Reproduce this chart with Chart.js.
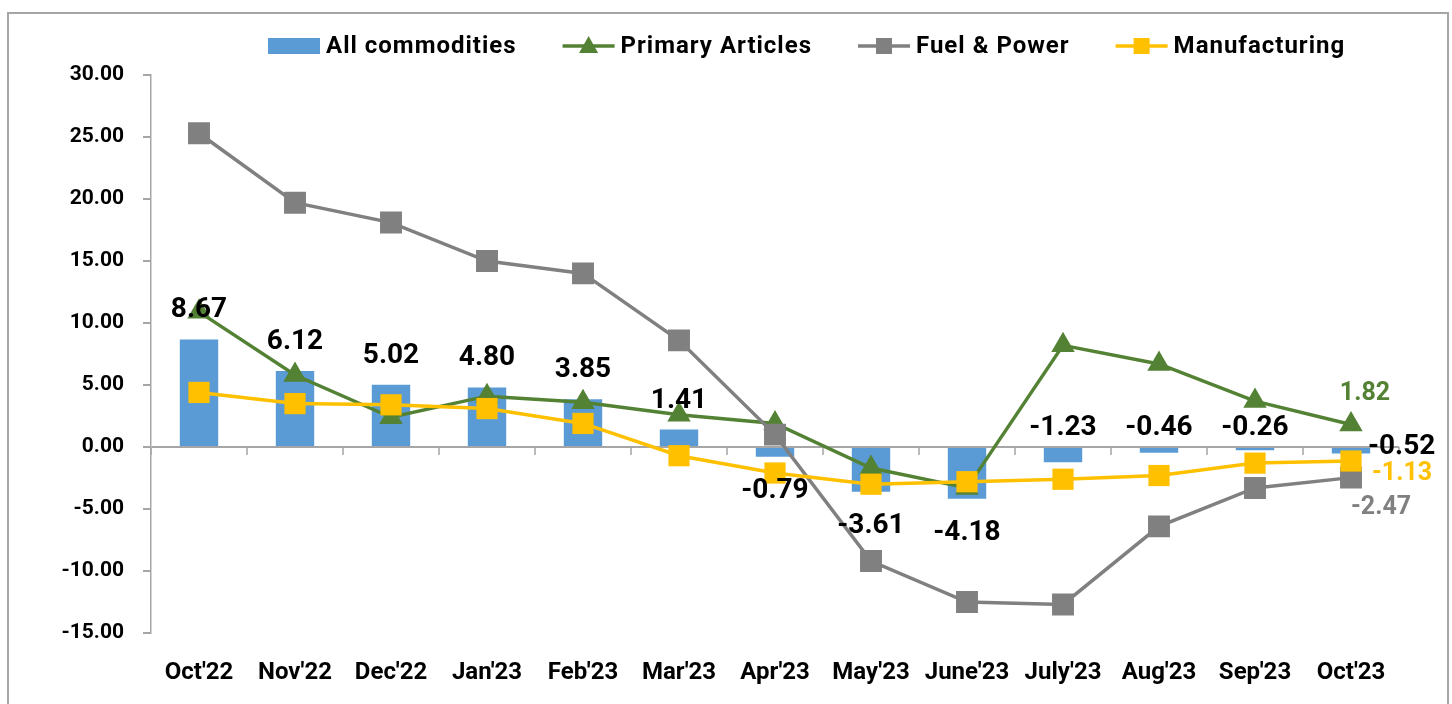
<!DOCTYPE html>
<html>
<head>
<meta charset="utf-8">
<script src="https://cdn.jsdelivr.net/npm/chart.js@4/dist/chart.umd.min.js"></script>
<style>
  html, body { margin: 0; padding: 0; background: #fff; overflow: hidden; }
  #frame { position: absolute; left: 7px; top: 12px; width: 1438px; height: 720px; border: 2px solid #a6a6a6; pointer-events: none; }
  canvas { position: absolute; left: 0; top: 0; }
</style>
</head>
<body>
<canvas id="myChart" width="1452" height="704"></canvas>
<div id="frame"></div>
<script>
// data
const months = ["Oct'22", "Nov'22", "Dec'22", "Jan'23", "Feb'23", "Mar'23", "Apr'23", "May'23", "June'23", "July'23", "Aug'23", "Sep'23", "Oct'23"];
const allCommodities = [8.67, 6.12, 5.02, 4.80, 3.85, 1.41, -0.79, -3.61, -4.18, -1.23, -0.46, -0.26, -0.52];
const primaryArticles = [10.9, 5.8, 2.4, 4.1, 3.6, 2.6, 1.9, -1.7, -3.3, 8.2, 6.7, 3.7, 1.82];
const fuelPower = [25.3, 19.7, 18.1, 15.0, 14.0, 8.6, 1.0, -9.2, -12.5, -12.7, -6.4, -3.3, -2.47];
const manufacturing = [4.4, 3.5, 3.4, 3.1, 1.9, -0.7, -2.1, -3.0, -2.8, -2.6, -2.3, -1.3, -1.13];
const yTicks = [30, 25, 20, 15, 10, 5, 0, -5, -10, -15];
// where each bar value label sits
const barLabelPlace = ['top', 'top', 'top', 'top', 'top', 'top', 'bottom', 'bottom', 'bottom', 'top', 'top', 'top', 'right'];

const FONT = 'Roboto, "Liberation Sans", sans-serif';
const BLUE = '#5b9bd5', GREEN = '#548235', GREY = '#808080', GOLD = '#ffc000', AXIS = '#a6a6a6';

// legend: custom so each line series gets its line + marker symbol
const legendPlugin = {
    id: 'excelLegend',
    afterDraw(chart) {
        const ctx = chart.ctx;
        const items = [
            { text: 'All commodities', kind: 'bar', color: BLUE },
            { text: 'Primary Articles', kind: 'triangle', color: GREEN },
            { text: 'Fuel & Power', kind: 'square', color: GREY },
            { text: 'Manufacturing', kind: 'square', color: GOLD }
        ];
        const y = 46;
        let x = 268;
        ctx.save();
        ctx.font = 'bold 24px ' + FONT;
        ctx.letterSpacing = '1px';
        ctx.textBaseline = 'middle';
        items.forEach(item => {
            ctx.fillStyle = item.color;
            if (item.kind === 'bar') {
                ctx.fillRect(x, y - 8, 52, 16);
            } else {
                ctx.strokeStyle = item.color;
                ctx.lineWidth = 3.5;
                ctx.beginPath();
                ctx.moveTo(x, y);
                ctx.lineTo(x + 52, y);
                ctx.stroke();
                if (item.kind === 'square') {
                    ctx.fillRect(x + 26 - 8, y - 8, 16, 16);
                } else {
                    ctx.beginPath();
                    ctx.moveTo(x + 26, y - 10);
                    ctx.lineTo(x + 26 + 9.5, y + 7);
                    ctx.lineTo(x + 26 - 9.5, y + 7);
                    ctx.closePath();
                    ctx.fill();
                }
            }
            x += 58;
            ctx.fillStyle = '#000';
            ctx.fillText(item.text, x, y + 1);
            x += ctx.measureText(item.text).width + 46;
        });
        ctx.restore();
    }
};

// zero line ticks between categories
const zeroTicksPlugin = {
    id: 'zeroTicks',
    beforeDatasetsDraw(chart) {
        const xs = chart.scales.x, ys = chart.scales.y;
        const ctx = chart.ctx;
        const y0 = ys.getPixelForValue(0);
        const step = xs.getPixelForValue(1) - xs.getPixelForValue(0);
        ctx.save();
        ctx.strokeStyle = AXIS;
        ctx.lineWidth = 1.5;
        ctx.beginPath();
        for (let i = 0; i <= months.length; i++) {
            const x = xs.getPixelForValue(0) + (i - 0.5) * step;
            ctx.moveTo(x, y0);
            ctx.lineTo(x, y0 + 8);
        }
        ctx.stroke();
        ctx.restore();
    }
};

const valueLabelsPlugin = {
    id: 'valueLabels',
    afterDatasetsDraw(chart) {
        const ctx = chart.ctx;
        const ys = chart.scales.y;
        const y0 = ys.getPixelForValue(0);
        ctx.save();
        ctx.textBaseline = 'middle';
        ctx.font = 'bold 28px ' + FONT;
        ctx.fillStyle = '#000';
        chart.getDatasetMeta(0).data.forEach((bar, i) => {
            const v = allCommodities[i];
            const txt = v.toFixed(2);
            const place = barLabelPlace[i];
            ctx.textAlign = 'center';
            if (place === 'right') {
                ctx.textAlign = 'left';
                ctx.fillText(txt, bar.x + 17, y0);
            } else if (place === 'bottom') {
                ctx.fillText(txt, bar.x, bar.y + 34);
            } else if (v >= 0) {
                ctx.fillText(txt, bar.x, bar.y - 29);
            } else {
                ctx.fillText(txt, bar.x, y0 - 19);
            }
        });
        // last-point labels of the lines
        const last = months.length - 1;
        ctx.font = 'bold 25px ' + FONT;
        let p = chart.getDatasetMeta(1).data[last];
        ctx.fillStyle = GREEN;
        ctx.textAlign = 'center';
        ctx.fillText(primaryArticles[last].toFixed(2), p.x + 14, p.y - 31);
        p = chart.getDatasetMeta(3).data[last];
        ctx.fillStyle = GOLD;
        ctx.textAlign = 'left';
        ctx.fillText(manufacturing[last].toFixed(2), p.x + 21, p.y + 13);
        p = chart.getDatasetMeta(2).data[last];
        ctx.fillStyle = GREY;
        ctx.textAlign = 'center';
        ctx.fillText(fuelPower[last].toFixed(2), p.x + 30, p.y + 30);
        ctx.restore();
    }
};

function lineSet(label, data, color, style, radius, order) {
    return {
        type: 'line',
        label: label,
        data: data,
        borderColor: color,
        backgroundColor: color,
        borderWidth: 3.5,
        pointStyle: style,
        pointRadius: radius,
        pointHoverRadius: radius,
        pointBackgroundColor: color,
        pointBorderColor: color,
        pointBorderWidth: 0,
        tension: 0,
        order: order
    };
}

const ctx = document.getElementById('myChart').getContext('2d');
const myChart = new Chart(ctx, {
    type: 'bar',
    data: {
        labels: months,
        datasets: [
            {
                label: 'All commodities',
                data: allCommodities,
                backgroundColor: BLUE,
                barPercentage: 0.4,
                categoryPercentage: 1,
                order: 3
            },
            lineSet('Primary Articles', primaryArticles, GREEN, 'triangle', 13.5, 2),
            lineSet('Fuel & Power', fuelPower, GREY, 'rect', 15.5, 1),
            lineSet('Manufacturing', manufacturing, GOLD, 'rect', 15, 0)
        ]
    },
    options: {
        responsive: false,
        animation: false,
        layout: { padding: { top: 75, right: 53, bottom: 0, left: 0 } },
        plugins: {
            legend: { display: false },
            tooltip: { enabled: false }
        },
        scales: {
            x: {
                offset: true,
                grid: { display: false },
                border: { display: false },
                ticks: {
                    color: '#000',
                    font: { family: FONT, size: 24, weight: 'bold' },
                    padding: 18,
                    maxRotation: 0,
                    autoSkip: false
                },
                afterFit(scale) { scale.height = 71; }
            },
            y: {
                min: -15,
                max: 30,
                afterBuildTicks(scale) { scale.ticks = yTicks.map(v => ({ value: v })); },
                ticks: {
                    color: '#000',
                    font: { family: FONT, size: 21, weight: 'bold' },
                    padding: 19,
                    callback: v => v.toFixed(2)
                },
                grid: {
                    color: c => (c.tick && c.tick.value === 0) ? AXIS : 'rgba(0,0,0,0)',
                    tickColor: AXIS,
                    tickLength: 8,
                    lineWidth: 2
                },
                border: { color: AXIS, width: 1.5 },
                afterFit(scale) { scale.width = 151; }
            }
        }
    },
    plugins: [zeroTicksPlugin, valueLabelsPlugin, legendPlugin]
});
</script>
</body>
</html>
